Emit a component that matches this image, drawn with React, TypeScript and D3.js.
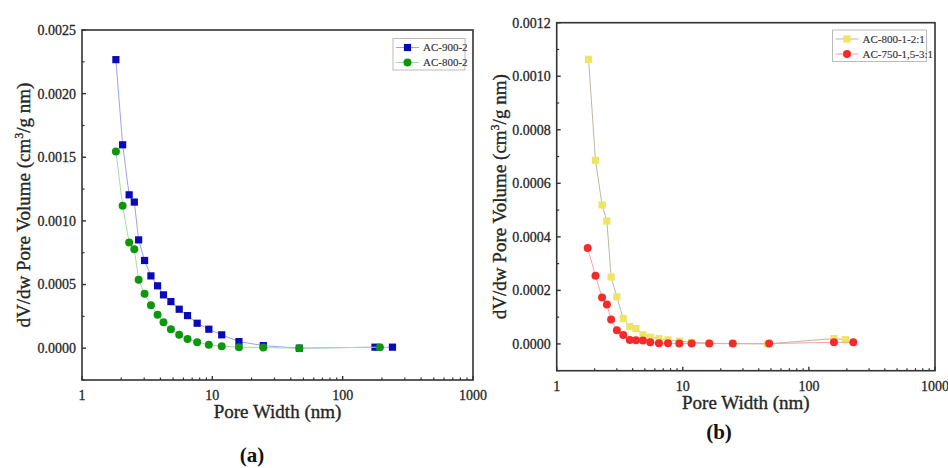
import React from "react";
import * as d3 from "d3";

// ---------- Data ----------
// Panel (a)
const aBlueX = [1.82, 2.05, 2.30, 2.52, 2.72, 3.02, 3.38, 3.80, 4.22, 4.81, 5.57, 6.45, 7.65, 9.40, 11.8, 16.0, 24.6, 46.5, 177, 241];
const aBlueY = [0.002267, 0.001598, 0.001205, 0.001148, 0.000851, 0.000689, 0.000568, 0.00049, 0.000419, 0.000366, 0.000306, 0.000256, 0.000196, 0.000149, 0.000105, 0.000052, 0.00002, 0.0, 0.000008, 0.000008];
const aGreenX = [1.82, 2.05, 2.30, 2.52, 2.72, 3.02, 3.38, 3.80, 4.22, 4.81, 5.57, 6.45, 7.65, 9.40, 11.8, 16.0, 24.6, 46.5, 193];
const aGreenY = [0.001546, 0.001119, 0.00083, 0.000778, 0.000537, 0.000427, 0.000338, 0.000262, 0.000204, 0.000149, 0.000105, 0.000073, 0.000047, 0.000026, 0.000016, 0.000008, 0.000005, 0.0, 0.000008];
const aSeriesNames = ["AC-900-2", "AC-800-2"];
const aYTicks = [0, 0.0005, 0.001, 0.0015, 0.002, 0.0025];

// Panel (b)
const bYellowX = [1.79, 2.03, 2.29, 2.50, 2.70, 3.00, 3.37, 3.80, 4.25, 4.83, 5.52, 6.47, 7.63, 9.38, 11.75, 16.2, 24.9, 46.7, 158, 194.6];
const bYellowY = [0.001063, 0.000686, 0.000519, 0.000459, 0.00025, 0.000176, 0.0000946, 0.0000647, 0.0000573, 0.0000336, 0.0000249, 0.00002, 0.000015, 0.00001, 0.000006, 0.000003, 0.000001, 0.0, 0.00002, 0.000016];
const bRedX = [1.76, 2.03, 2.29, 2.50, 2.70, 3.00, 3.37, 3.80, 4.25, 4.83, 5.52, 6.47, 7.63, 9.38, 11.75, 16.2, 24.9, 48.4, 158, 225];
const bRedY = [0.000358, 0.000255, 0.000173, 0.000147, 0.0000909, 0.000051, 0.0000336, 0.000015, 0.0000137, 0.0000124, 0.0000062, 0.0000025, 0.0000025, 0.0000012, 0.0000012, 0.0000012, 0.0000012, 0.0000012, 0.0000062, 0.0000062];
const bSeriesNames = ["AC-800-1-2:1", "AC-750-1,5-3:1"];
const bYTicks = [0, 0.0002, 0.0004, 0.0006, 0.0008, 0.001, 0.0012];

const xTickValues = [1, 10, 100, 1000];
const xTickLabels = ["1", "10", "100", "1000"];

const SERIF = "'Liberation Serif', 'DejaVu Serif', serif";
const TXT = "#262626";

type Series = {
  name: string;
  xs: number[];
  ys: number[];
  marker: "square" | "circle";
  fill: string;
  line: string;
};

type PanelProps = {
  left: number;
  right: number;
  top: number;
  bottom: number;
  yDomain: [number, number];
  yTicks: number[];
  yMinorStep: number;
  series: Series[];
  legend: { x: number; y: number; w: number; h: number };
  xTitleY: number;
  yTitleX: number;
  panelLabel: string;
  panelLabelX: number;
  panelLabelY: number;
};

function Panel(p: PanelProps) {
  const x = d3.scaleLog().domain([1, 1000]).range([p.left, p.right]);
  const y = d3.scaleLinear().domain(p.yDomain).range([p.bottom, p.top]);
  const axisColor = "#333";

  const minorX: number[] = [];
  for (let dec = 1; dec < 1000; dec *= 10) {
    for (let k = 2; k <= 9; k++) minorX.push(dec * k);
  }
  const minorY: number[] = [];
  const n = Math.round((p.yDomain[1] - p.yDomain[0]) / p.yMinorStep);
  for (let i = 0; i <= n; i++) {
    const v = p.yDomain[0] + i * p.yMinorStep;
    if (!p.yTicks.some((t) => Math.abs(t - v) < 1e-9)) minorY.push(v);
  }

  const line = d3
    .line<[number, number]>()
    .x((d) => x(d[0]))
    .y((d) => y(d[1]));

  const midX = (p.left + p.right) / 2;
  const midY = (p.top + p.bottom) / 2;

  const renderMarker = (s: Series, cx: number, cy: number, key: string) =>
    s.marker === "square" ? (
      <rect key={key} x={cx - 3.6} y={cy - 3.6} width={7.2} height={7.2} fill={s.fill} />
    ) : (
      <circle key={key} cx={cx} cy={cy} r={4} fill={s.fill} />
    );

  return (
    <g>
      {/* series */}
      {p.series.map((s, si) => {
        const pts: [number, number][] = s.xs.map((xv, i) => [xv, s.ys[i]]);
        return (
          <g key={si}>
            <path d={line(pts) || ""} fill="none" stroke={s.line} strokeWidth={1} />
            {pts.map((d, i) => renderMarker(s, x(d[0]), y(d[1]), `m${si}-${i}`))}
          </g>
        );
      })}

      {/* frame */}
      <rect
        x={p.left}
        y={p.top}
        width={p.right - p.left}
        height={p.bottom - p.top}
        fill="none"
        stroke={axisColor}
        strokeWidth={1.6}
      />

      {/* y ticks */}
      {p.yTicks.map((t) => (
        <g key={`yt${t}`}>
          <line x1={p.left} x2={p.left + 4} y1={y(t)} y2={y(t)} stroke={axisColor} strokeWidth={1.4} />
          <text
            x={p.left - 6}
            y={y(t)}
            dy="0.35em"
            textAnchor="end"
            fontFamily={SERIF}
            fontSize={14}
            fill={TXT}
            stroke={TXT}
            strokeWidth={0.3}
          >
            {t.toFixed(4)}
          </text>
        </g>
      ))}
      {minorY.map((t) => (
        <line key={`ym${t}`} x1={p.left} x2={p.left + 2.5} y1={y(t)} y2={y(t)} stroke={axisColor} strokeWidth={1.2} />
      ))}

      {/* x ticks */}
      {xTickValues.map((t, i) => (
        <g key={`xt${t}`}>
          <line x1={x(t)} x2={x(t)} y1={p.bottom} y2={p.bottom - 4} stroke={axisColor} strokeWidth={1.4} />
          <text
            x={x(t)}
            y={p.bottom + 20}
            textAnchor="middle"
            fontFamily={SERIF}
            fontSize={14}
            fill={TXT}
            stroke={TXT}
            strokeWidth={0.3}
          >
            {xTickLabels[i]}
          </text>
        </g>
      ))}
      {minorX.map((t) => (
        <line key={`xm${t}`} x1={x(t)} x2={x(t)} y1={p.bottom} y2={p.bottom - 2.5} stroke={axisColor} strokeWidth={1.2} />
      ))}

      {/* titles */}
      <text
        x={midX}
        y={p.xTitleY}
        textAnchor="middle"
        fontFamily={SERIF}
        fontSize={19}
        fill={TXT}
        stroke={TXT}
        strokeWidth={0.35}
      >
        Pore Width (nm)
      </text>
      <text
        transform={`translate(${p.yTitleX},${midY}) rotate(-90)`}
        textAnchor="middle"
        fontFamily={SERIF}
        fontSize={19}
        fill={TXT}
        stroke={TXT}
        strokeWidth={0.35}
      >
        dV/dw Pore Volume (cm
        <tspan dy={-7} fontSize={12}>3</tspan>
        <tspan dy={7}>/g nm)</tspan>
      </text>

      {/* legend */}
      <rect
        x={p.legend.x}
        y={p.legend.y}
        width={p.legend.w}
        height={p.legend.h}
        fill="white"
        stroke="#bbb"
        strokeWidth={1}
      />
      {p.series.map((s, i) => {
        const ly = p.legend.y + 9 + i * 15;
        const lx = p.legend.x + 3;
        return (
          <g key={`lg${i}`}>
            <line x1={lx} x2={lx + 23} y1={ly} y2={ly} stroke={s.line} strokeWidth={1} />
            {renderMarker(s, lx + 11.5, ly, `lm${i}`)}
            <text x={lx + 27} y={ly} dy="0.35em" fontFamily={SERIF} fontSize={11} fill="#333" stroke="#333" strokeWidth={0.15}>
              {s.name}
            </text>
          </g>
        );
      })}

      {/* panel label */}
      <text
        x={p.panelLabelX}
        y={p.panelLabelY}
        textAnchor="middle"
        fontFamily={SERIF}
        fontSize={21}
        fontWeight="bold"
        fill="#111"
      >
        {p.panelLabel}
      </text>
    </g>
  );
}

export default function App() {
  const seriesA: Series[] = [
    { name: aSeriesNames[0], xs: aBlueX, ys: aBlueY, marker: "square", fill: "#0a0ab8", line: "#9ea2ee" },
    { name: aSeriesNames[1], xs: aGreenX, ys: aGreenY, marker: "circle", fill: "#0e960e", line: "#a6dca6" },
  ];
  const seriesB: Series[] = [
    { name: bSeriesNames[0], xs: bYellowX, ys: bYellowY, marker: "square", fill: "#efe463", line: "#bdb8a2" },
    { name: bSeriesNames[1], xs: bRedX, ys: bRedY, marker: "circle", fill: "#f22b2b", line: "#f5a3a3" },
  ];

  return (
    <svg
      width={948}
      height={468}
      style={{ position: "absolute", left: 0, top: 0, background: "white" }}
    >
      <rect x={0} y={0} width={948} height={468} fill="white" />
      <Panel
        left={82}
        right={473}
        top={30}
        bottom={380}
        yDomain={[-0.00025, 0.0025]}
        yTicks={aYTicks}
        yMinorStep={0.00025}
        series={seriesA}
        legend={{ x: 393, y: 38.5, w: 72, h: 31.5 }}
        xTitleY={418}
        yTitleX={30}
        panelLabel="(a)"
        panelLabelX={252}
        panelLabelY={462}
      />
      <Panel
        left={556.7}
        right={935}
        top={22.7}
        bottom={370.7}
        yDomain={[-0.0001, 0.0012]}
        yTicks={bYTicks}
        yMinorStep={0.0001}
        series={seriesB}
        legend={{ x: 832.5, y: 30, w: 94, h: 31.5 }}
        xTitleY={409}
        yTitleX={506}
        panelLabel="(b)"
        panelLabelX={719}
        panelLabelY={439}
      />
    </svg>
  );
}
